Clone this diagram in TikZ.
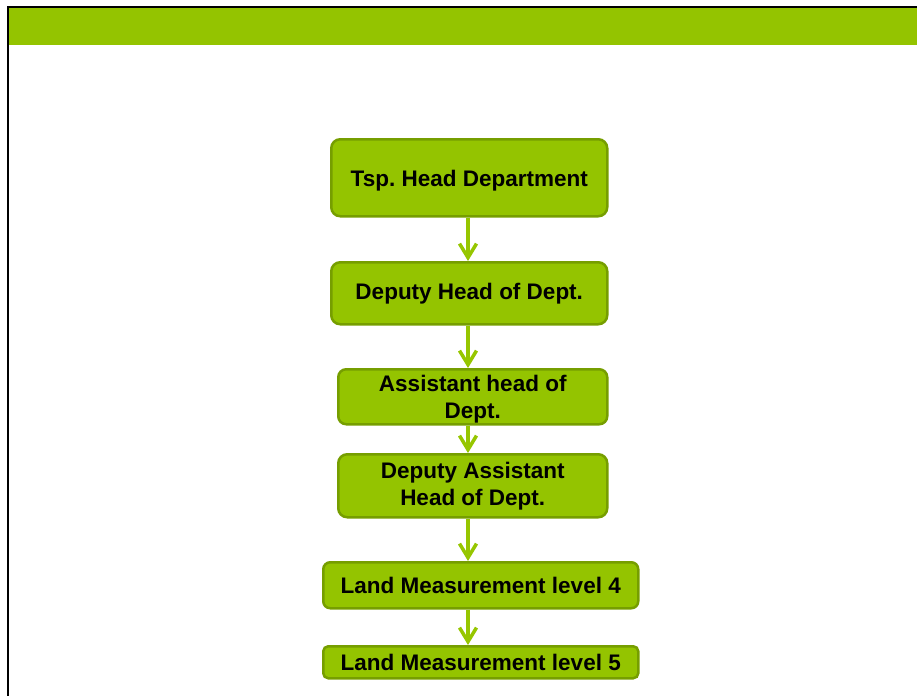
\documentclass[tikz,border=0pt]{standalone}
\usepackage{fontspec}
\setmainfont{Liberation Sans}
\usetikzlibrary{arrows.meta}
\frenchspacing
\definecolor{bandgreen}{RGB}{148,196,0}
\definecolor{boxfill}{RGB}{148,196,0}
\definecolor{boxline}{RGB}{118,158,0}
\definecolor{arrowgreen}{RGB}{150,198,0}
\newcommand{\lowertext}[1]{\raisebox{-3pt}[\height][\depth]{#1}}
\tikzset{
  orgbox/.style={draw=boxline, fill=boxfill, line width=2.5pt, rounded corners=9pt,
    inner sep=0pt, align=center, anchor=north west,
    font=\fontsize{22.5}{27}\selectfont\bfseries\frenchspacing, text=black},
  orgarrow/.style={draw=arrowgreen, line width=3.5pt,
    -{Straight Barb[length=14pt,width=17pt,line width=3.5pt]}}
}
\begin{document}
\begin{tikzpicture}[x=1pt,y=-1pt]
\useasboundingbox (0,0) rectangle (917,696);
\fill[bandgreen] (8,8) rectangle (917,45);
\draw[black, line width=2pt] (917,7) -- (7.5,7) -- (7.5,696);

\node[orgbox, minimum width=276pt, minimum height=77pt] (b1) at (330,138) {\lowertext{Tsp. Head Department}};
\node[orgbox, minimum width=276pt, minimum height=62pt] (b2) at (330,261) {Deputy Head of Dept.};
\node[orgbox, minimum width=269pt, minimum height=55pt, rounded corners=8pt] (b3) at (337,368) {\lowertext{\begin{tabular}{@{}c@{}}Assistant head of\\Dept.\end{tabular}}};
\node[orgbox, minimum width=269pt, minimum height=63pt] (b4) at (337,453) {Deputy Assistant\\Head of Dept.};
\node[orgbox, minimum width=315pt, minimum height=46pt, rounded corners=7pt] (b5) at (322,561) {Land Measurement level 4};
\node[orgbox, minimum width=315pt, minimum height=32pt, rounded corners=5pt] (b6) at (322,645) {Land Measurement level 5};

\draw[orgarrow] (b1.south -| 468,0) -- (b2.north -| 468,0);
\draw[orgarrow] (b2.south -| 468,0) -- (b3.north -| 468,0);
\draw[orgarrow] (b3.south -| 468,0) -- (b4.north -| 468,0);
\draw[orgarrow] (b4.south -| 468,0) -- (b5.north -| 468,0);
\draw[orgarrow] (b5.south -| 468,0) -- (b6.north -| 468,0);
\end{tikzpicture}
\end{document}
